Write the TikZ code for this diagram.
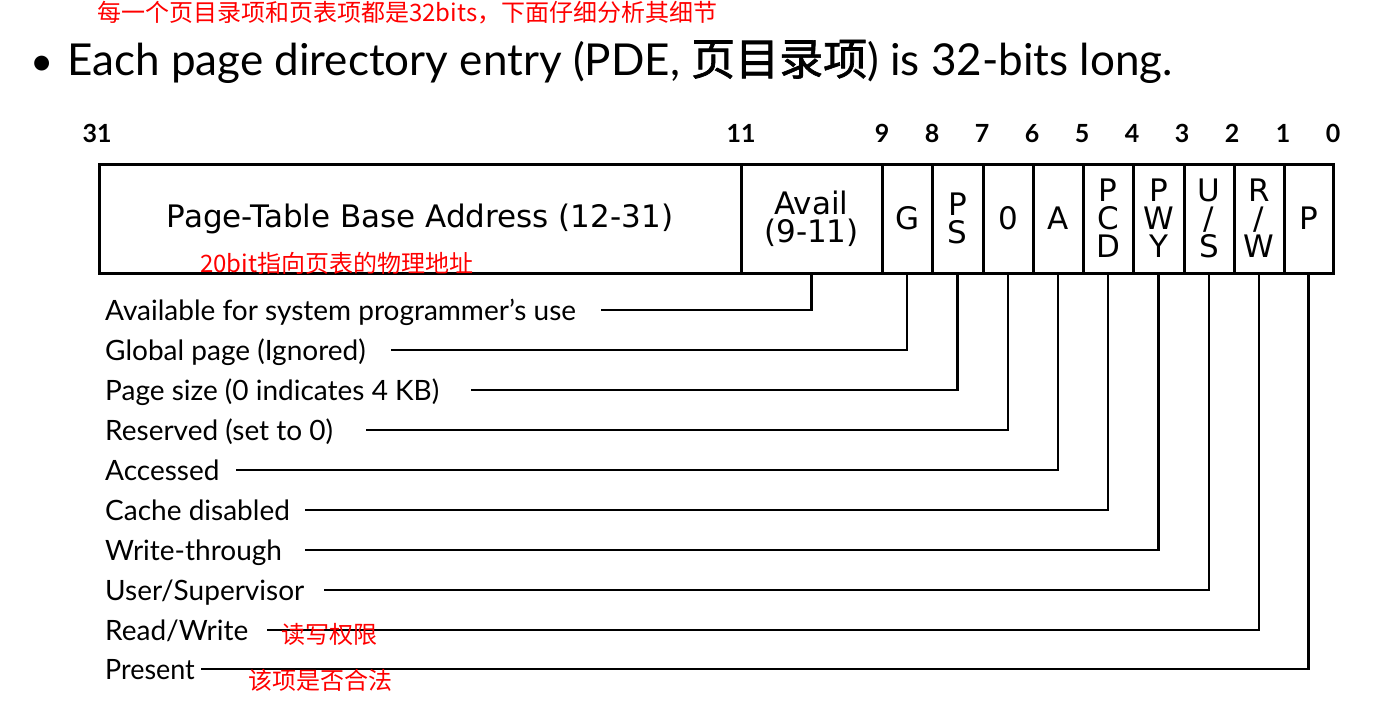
\documentclass[tikz,border=0pt]{standalone}
\usepackage{fontspec}
\setmainfont{Lato}
\newfontfamily\gill{Lato}
\newfontfamily\verd{DejaVu Sans}
\newfontfamily\cjk{Noto Sans CJK SC}
\newfontfamily\cjkb[FakeBold=1.5]{Noto Sans CJK SC}
\usetikzlibrary{calc}
\begin{document}
\begin{tikzpicture}[x=1pt,y=-1pt,
  cell/.style={draw, line width=3pt, minimum height=109pt, inner sep=0pt, outer sep=0pt,
    font=\verd\fontsize{31}{28}\selectfont, align=center},
  conn/.style={line width=2.5pt},
  desc/.style={anchor=base west, inner sep=0pt, font=\gill\fontsize{28}{30}\selectfont},
  bitno/.style={anchor=base, inner sep=0pt, font=\gill\bfseries\fontsize{25}{25}\selectfont},
  note/.style={text=red, inner sep=0pt, font=\cjk\fontsize{24}{24}\selectfont}
]
\useasboundingbox (0,0) rectangle (1392,701);
\fill[white] (0,0) rectangle (1392,701);

% top red note
\node[note, anchor=west] (topnote) at (97,13) {每一个页目录项和页表项都是32bits，下面仔细分析其细节};

% title
\node[anchor=base, inner sep=0pt, font=\gill\fontsize{40}{40}\selectfont] (bullet) at (42,75) {•};
\node[anchor=base west, inner sep=0pt, font=\gill\fontsize{44}{44}\selectfont] (title) at (67,75)
  {Each page directory entry (PDE, {\cjkb 页目录项}) is 32-bits long.};

% bit numbers
\node[bitno] (b31) at (97,142) {31};
\node[bitno] (b11) at (741,142) {11};
\node[bitno] (b9) at (882,142) {9};
\node[bitno] (b8) at (932,142) {8};
\node[bitno] (b7) at (982,142) {7};
\node[bitno] (b6) at (1032,142) {6};
\node[bitno] (b5) at (1082,142) {5};
\node[bitno] (b4) at (1132,142) {4};
\node[bitno] (b3) at (1182,142) {3};
\node[bitno] (b2) at (1232,142) {2};
\node[bitno] (b1) at (1283,142) {1};
\node[bitno] (b0) at (1333,142) {0};

% cells
\node[cell, minimum width=642pt] (base) at (420,218.5) {Page-Table Base Address (12-31)};
\node[cell, minimum width=141pt] (avail) at (811.5,218.5) {Avail\\(9-11)};
\node[cell, minimum width=50pt] (g) at (907,218.5) {G};
\node[cell, minimum width=51pt] (ps) at (957.5,218.5) {P\\S};
\node[cell, minimum width=50pt] (zero) at (1008,218.5) {0};
\node[cell, minimum width=50pt] (a) at (1058,218.5) {A};
\node[cell, minimum width=50pt] (pcd) at (1108,218.5) {P\\C\\D};
\node[cell, minimum width=51pt] (pwy) at (1158.5,218.5) {P\\W\\Y};
\node[cell, minimum width=50pt] (us) at (1209,218.5) {U\\/\\S};
\node[cell, minimum width=50pt] (rw) at (1259,218.5) {R\\/\\W};
\node[cell, minimum width=49pt] (p) at (1308.5,218.5) {P};

\node[note, anchor=west] (basenote) at (200,263) {20bit指向页表的物理地址};

% descriptions
\node[desc] (dAvail) at (105,320) {Available for system programmer’s use};
\node[desc] (dG) at (105,360) {Global page (Ignored)};
\node[desc] (dPS) at (105,400) {Page size (0 indicates 4 KB)};
\node[desc] (d0) at (105,440) {Reserved (set to 0)};
\node[desc] (dA) at (105,480) {Accessed};
\node[desc] (dPCD) at (105,520) {Cache disabled};
\node[desc] (dPWY) at (105,560) {Write-through};
\node[desc] (dUS) at (105,600) {User/Supervisor};
\node[desc] (dRW) at (105,640) {Read/Write};
\node[desc] (dP) at (105,679) {\scalebox{0.96}[1]{Present}};

% connector start points
\coordinate (sAvail) at (601,310);
\coordinate (sG) at (391,350);
\coordinate (sPS) at (471,390);
\coordinate (s0) at (366,430);
\coordinate (sA) at (236,470);
\coordinate (sPCD) at (305,510);
\coordinate (sPWY) at (305,550);
\coordinate (sUS) at (324,590);
\coordinate (sRW) at (267,630);
\coordinate (sP) at (201,669);

\draw[conn] (sAvail) -| (avail.south);
\draw[conn] (sG) -| (g.south);
\draw[conn] (sPS) -| (ps.south);
\draw[conn] (s0) -| (zero.south);
\draw[conn] (sA) -| (a.south);
\draw[conn] (sPCD) -| (pcd.south);
\draw[conn] (sPWY) -| (pwy.south);
\draw[conn] (sUS) -| (us.south);
\draw[conn] (sRW) -| (rw.south);
\draw[conn] (sP) -| (p.south);

% red notes
\node[note, anchor=west] (rwnote) at (281,634) {读写权限};
\node[note, anchor=west] (pnote) at (248,680) {该项是否合法};
\end{tikzpicture}
\end{document}
